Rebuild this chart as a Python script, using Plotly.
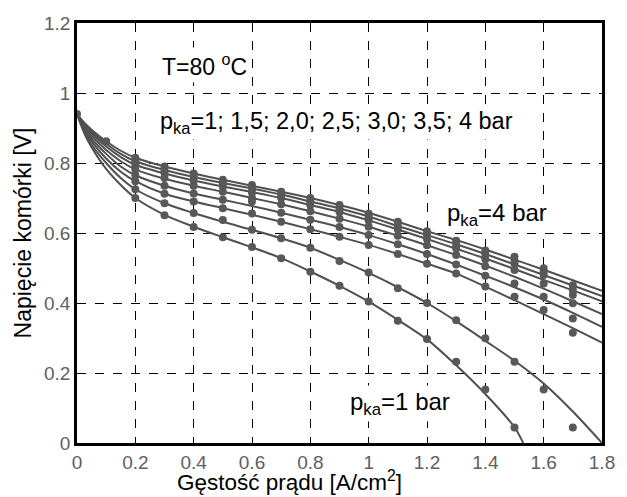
import plotly.graph_objects as go

# current density grid for fitted curves [A/cm2]
x_line = [0, 0.025, 0.05, 0.1, 0.15, 0.2, 0.3, 0.4, 0.5, 0.6, 0.7, 0.8, 0.9, 1.0,
          1.1, 1.2, 1.3, 1.4, 1.5, 1.6, 1.7, 1.8]
x_line_c1 = [0, 0.025, 0.05, 0.1, 0.15, 0.2, 0.3, 0.4, 0.5, 0.6, 0.7, 0.8, 0.9, 1.0,
             1.1, 1.2, 1.3, 1.4, 1.5, 1.53]

# fitted curves (cell voltage [V]), from lowest to highest pressure
line_c1 = [0.94, 0.885, 0.845, 0.783, 0.737, 0.70, 0.652, 0.618, 0.588, 0.559, 0.528, 0.49,
           0.449, 0.404, 0.352, 0.296, 0.222, 0.14, 0.045, 0.0]
line_c2 = [0.94, 0.89, 0.852, 0.80, 0.757, 0.725, 0.685, 0.657, 0.632, 0.609, 0.585, 0.558,
           0.523, 0.486, 0.445, 0.40, 0.348, 0.292, 0.235, 0.17, 0.09, 0.0]
line_c3 = [0.94, 0.895, 0.862, 0.813, 0.775, 0.748, 0.712, 0.69, 0.671, 0.652, 0.632, 0.611,
           0.589, 0.566, 0.54, 0.512, 0.484, 0.447, 0.408, 0.368, 0.328, 0.287]
line_c4 = [0.94, 0.90, 0.87, 0.826, 0.79, 0.765, 0.735, 0.713, 0.695, 0.677, 0.658, 0.638,
           0.617, 0.594, 0.568, 0.54, 0.51, 0.478, 0.445, 0.41, 0.372, 0.332]
line_c5 = [0.94, 0.905, 0.878, 0.837, 0.805, 0.782, 0.755, 0.735, 0.718, 0.70, 0.682, 0.662,
           0.641, 0.618, 0.592, 0.565, 0.537, 0.507, 0.475, 0.441, 0.405, 0.368]
line_c6 = [0.94, 0.91, 0.885, 0.847, 0.817, 0.795, 0.77, 0.75, 0.733, 0.717, 0.70, 0.68,
           0.66, 0.636, 0.61, 0.583, 0.555, 0.527, 0.497, 0.466, 0.436, 0.405]
line_c7 = [0.94, 0.913, 0.89, 0.855, 0.826, 0.805, 0.78, 0.76, 0.743, 0.727, 0.71, 0.69,
           0.67, 0.647, 0.62, 0.594, 0.568, 0.54, 0.51, 0.48, 0.45, 0.42]
line_c8 = [0.94, 0.915, 0.895, 0.862, 0.835, 0.815, 0.79, 0.77, 0.752, 0.735, 0.718, 0.70,
           0.68, 0.658, 0.632, 0.605, 0.58, 0.553, 0.524, 0.495, 0.465, 0.435]

# measured points
x_dots = [0.2, 0.3, 0.4, 0.5, 0.6, 0.7, 0.8, 0.9, 1.0, 1.1, 1.2, 1.3, 1.4, 1.5, 1.6, 1.7]
x_dots_c1 = [0.2, 0.3, 0.4, 0.5, 0.6, 0.7, 0.8, 0.9, 1.0, 1.1, 1.2, 1.3, 1.4, 1.5]
dots_c1 = [0.70, 0.651, 0.617, 0.588, 0.56, 0.528, 0.489, 0.449, 0.404, 0.349, 0.297, 0.232, 0.153, 0.044]
dots_c2 = [0.725, 0.685, 0.657, 0.637, 0.609, 0.585, 0.558, 0.52, 0.487, 0.442, 0.40, 0.351, 0.299, 0.232, 0.153, 0.044]
dots_c3 = [0.748, 0.712, 0.69, 0.671, 0.656, 0.632, 0.611, 0.589, 0.566, 0.54, 0.512, 0.484, 0.447, 0.418, 0.38, 0.315]
dots_c4 = [0.765, 0.735, 0.713, 0.695, 0.69, 0.658, 0.638, 0.617, 0.594, 0.568, 0.54, 0.51, 0.478, 0.456, 0.418, 0.356]
dots_c5 = [0.782, 0.757, 0.735, 0.718, 0.70, 0.682, 0.662, 0.641, 0.618, 0.592, 0.565, 0.537, 0.505, 0.494, 0.456, 0.399]
dots_c6 = [0.795, 0.772, 0.75, 0.733, 0.716, 0.70, 0.68, 0.66, 0.636, 0.61, 0.583, 0.556, 0.525, 0.513, 0.48, 0.423]
dots_c7 = [0.805, 0.78, 0.762, 0.743, 0.728, 0.71, 0.69, 0.67, 0.645, 0.62, 0.594, 0.566, 0.54, 0.52, 0.489, 0.437]
dots_c8 = [0.815, 0.79, 0.77, 0.752, 0.737, 0.718, 0.70, 0.68, 0.655, 0.632, 0.605, 0.578, 0.55, 0.532, 0.499, 0.451]
x_dots_start = [0, 0.1]
dots_start = [0.94, 0.862]

x_ticks = [0, 0.2, 0.4, 0.6, 0.8, 1, 1.2, 1.4, 1.6, 1.8]
x_tick_labels = ["0", "0.2", "0.4", "0.6", "0.8", "1", "1.2", "1.4", "1.6", "1.8"]
y_ticks = [0, 0.2, 0.4, 0.6, 0.8, 1, 1.2]
y_tick_labels = ["0", "0.2", "0.4", "0.6", "0.8", "1", "1.2"]

LINE_COL = "#505050"
DOT_COL = "#585858"
FONT = "Arial, Liberation Sans, sans-serif"

fig = go.Figure()

lines = [(x_line_c1, line_c1), (x_line, line_c2), (x_line, line_c3), (x_line, line_c4),
         (x_line, line_c5), (x_line, line_c6), (x_line, line_c7), (x_line, line_c8)]
for xs, ys in lines:
    fig.add_trace(go.Scatter(x=xs, y=ys, mode="lines",
                             line=dict(color=LINE_COL, width=2, shape="spline", smoothing=0.8),
                             showlegend=False, hoverinfo="skip"))

dots = [(x_dots_c1, dots_c1), (x_dots, dots_c2), (x_dots, dots_c3), (x_dots, dots_c4),
        (x_dots, dots_c5), (x_dots, dots_c6), (x_dots, dots_c7), (x_dots, dots_c8),
        (x_dots_start, dots_start)]
for xs, ys in dots:
    fig.add_trace(go.Scatter(x=xs, y=ys, mode="markers",
                             marker=dict(color=DOT_COL, size=8),
                             showlegend=False))

fig.add_annotation(x=0.28, y=1.08, xref="x", yref="y", text="T=80 <sup>o</sup>C",
                   showarrow=False, xanchor="left", yanchor="middle",
                   bgcolor="white", borderpad=2,
                   font=dict(family=FONT, size=23, color="black"))
fig.add_annotation(x=0.275, y=0.917, xref="x", yref="y",
                   text="p<sub>ka</sub>=1; 1,5; 2,0; 2,5; 3,0; 3,5; 4 bar",
                   showarrow=False, xanchor="left", yanchor="middle",
                   bgcolor="white", borderpad=2,
                   font=dict(family=FONT, size=23.5, color="black"))
fig.add_annotation(x=1.26, y=0.653, xref="x", yref="y", text="p<sub>ka</sub>=4 bar",
                   showarrow=False, xanchor="left", yanchor="middle",
                   bgcolor="white", borderpad=1,
                   font=dict(family=FONT, size=24, color="black"))
fig.add_annotation(x=0.925, y=0.114, xref="x", yref="y", text="p<sub>ka</sub>=1 bar",
                   showarrow=False, xanchor="left", yanchor="middle",
                   bgcolor="white", borderpad=2,
                   font=dict(family=FONT, size=24, color="black"))

# x-axis title (placed slightly left of centre, as in the original)
fig.add_annotation(x=0.405, y=0, xref="paper", yref="paper", yshift=-53,
                   text="Gęstość prądu [A/cm<sup>2</sup>]", showarrow=False,
                   xanchor="center", yanchor="bottom", borderpad=0,
                   font=dict(family=FONT, size=22.5, color="black"))

axis_common = dict(showline=True, mirror=True, linecolor="black", linewidth=2.5,
                   showgrid=True, gridcolor="black", gridwidth=1, griddash="dash",
                   zeroline=False, ticks="inside", ticklen=3, tickcolor="black",
                   tickfont=dict(family=FONT, size=19, color="#606060"))

fig.update_xaxes(range=[0, 1.8], tickvals=x_ticks, ticktext=x_tick_labels, **axis_common)
fig.update_yaxes(range=[0, 1.2], tickvals=y_ticks, ticktext=y_tick_labels,
                 title=dict(text="Napięcie komórki [V]", standoff=6,
                            font=dict(family=FONT, size=23, color="black")),
                 **axis_common)

fig.update_layout(width=627, height=497,
                  margin=dict(l=77, r=19, t=23, b=54),
                  plot_bgcolor="white", paper_bgcolor="white",
                  font=dict(family=FONT))

fig.write_html("out.html")
